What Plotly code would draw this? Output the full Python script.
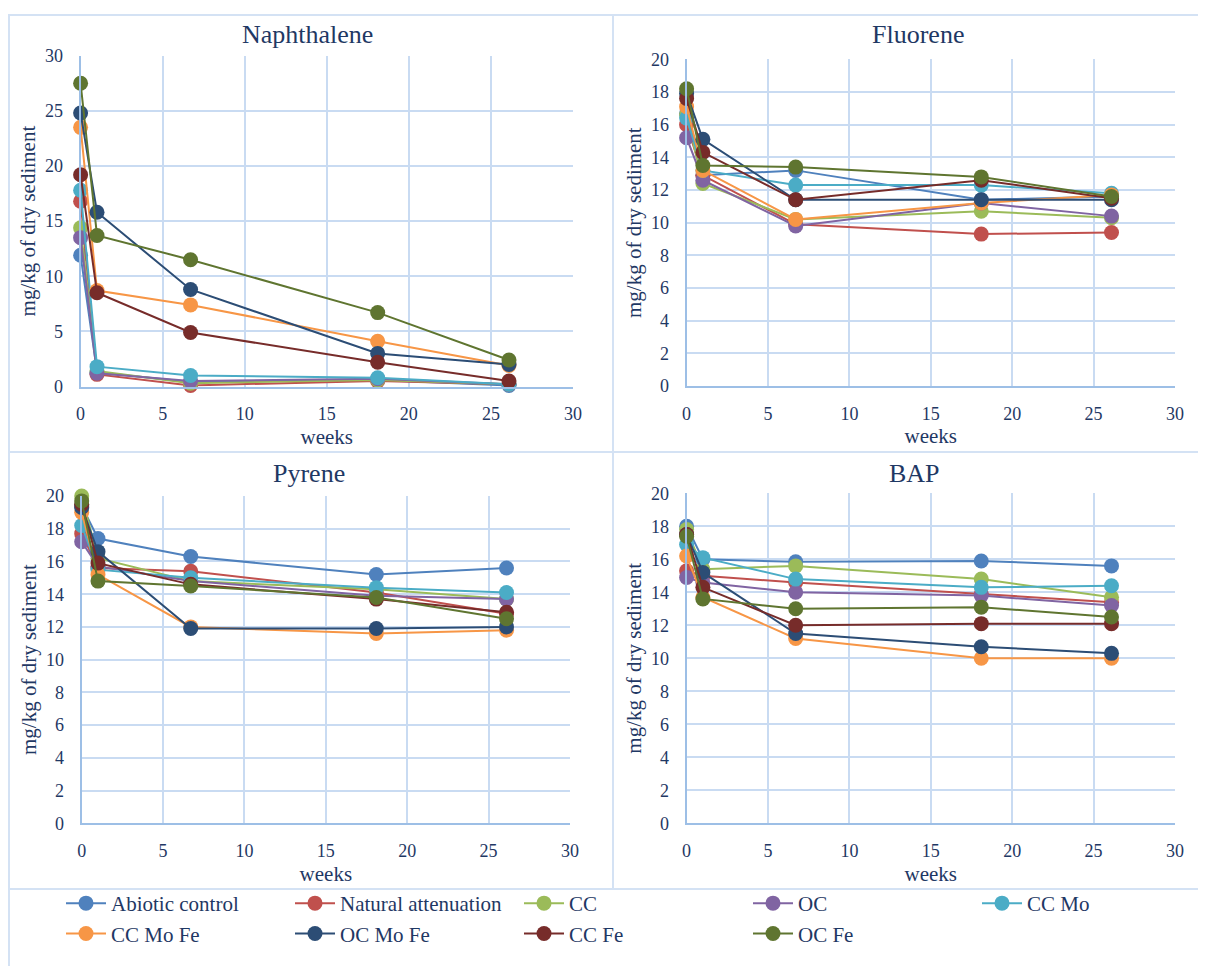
import plotly.graph_objects as go

weeks = [0, 1, 6.7, 18.1, 26.1]

series_names = ["Abiotic control", "Natural attenuation", "CC", "OC", "CC Mo",
                "CC Mo Fe", "OC Mo Fe", "CC Fe", "OC Fe"]
series_colors = ["#4F81BD", "#C0504D", "#9BBB59", "#8064A2", "#4BACC6",
                 "#F79646", "#2C4D75", "#772C2A", "#5F7530"]

naphthalene = [
    [11.9, 1.3, 0.4, 0.6, 0.1],
    [16.8, 1.1, 0.1, 0.5, 0.2],
    [14.4, 1.4, 0.3, 0.6, 0.2],
    [13.5, 1.2, 0.5, 0.7, 0.2],
    [17.8, 1.8, 1.0, 0.8, 0.2],
    [23.5, 8.7, 7.4, 4.1, 1.9],
    [24.8, 15.8, 8.8, 3.0, 2.0],
    [19.2, 8.5, 4.9, 2.2, 0.5],
    [27.5, 13.7, 11.5, 6.7, 2.4],
]
fluorene = [
    [16.7, 12.9, 13.2, 11.4, 11.6],
    [16.0, 12.9, 9.9, 9.3, 9.4],
    [16.6, 12.4, 10.2, 10.7, 10.3],
    [15.2, 12.6, 9.8, 11.2, 10.4],
    [16.4, 13.2, 12.3, 12.3, 11.8],
    [17.1, 13.2, 10.2, 11.2, 11.7],
    [17.9, 15.1, 11.4, 11.4, 11.4],
    [17.6, 14.3, 11.4, 12.6, 11.5],
    [18.2, 13.5, 13.4, 12.8, 11.6],
]
pyrene = [
    [19.4, 17.4, 16.3, 15.2, 15.6],
    [17.7, 15.6, 15.4, 14.1, 12.8],
    [20.0, 16.2, 14.8, 14.3, 13.7],
    [17.2, 15.7, 14.8, 13.9, 13.7],
    [18.2, 15.5, 15.0, 14.4, 14.1],
    [19.0, 15.2, 12.0, 11.6, 11.8],
    [19.3, 16.6, 11.9, 11.9, 12.0],
    [19.5, 15.9, 14.6, 13.7, 12.9],
    [19.7, 14.8, 14.5, 13.8, 12.5],
]
bap = [
    [18.0, 16.0, 15.85, 15.9, 15.6],
    [15.3, 15.0, 14.6, 13.9, 13.4],
    [17.8, 15.4, 15.6, 14.8, 13.7],
    [14.9, 14.6, 14.0, 13.8, 13.2],
    [16.9, 16.1, 14.8, 14.3, 14.4],
    [16.2, 13.7, 11.2, 10.0, 10.0],
    [17.5, 15.2, 11.5, 10.7, 10.3],
    [17.5, 14.3, 12.0, 12.1, 12.1],
    [17.4, 13.6, 13.0, 13.1, 12.5],
]

panel_titles = ["Naphthalene", "Fluorene", "Pyrene", "BAP"]
panel_data = [naphthalene, fluorene, pyrene, bap]
y_max = [30, 20, 20, 20]
y_step = [5, 2, 2, 2]

W, H = 1206, 966
OFF = 8  # page body margin offset
TXT = "#1F3864"
FONT = "Liberation Serif, Times New Roman, serif"
GRID = "#C9DBF2"
AXIS = "#9DBFE6"
BORDER = "#D4E2F4"


def px(x):
    return (x - OFF) / W


def py(y):
    return 1 - (y - OFF) / H


# plot areas in screen pixels: (x0, x1, ybottom, ytop)
areas = [(80.6, 573, 386.5, 55.7), (686.6, 1175, 386, 59.3),
         (81.7, 570, 823.3, 496), (686.6, 1175, 823.3, 493.3)]
title_pos = [(307, 35), (918, 35), (309, 473), (914, 473)]

fig = go.Figure()
layout = dict()
for i, (title, data) in enumerate(zip(panel_titles, panel_data)):
    n = "" if i == 0 else str(i + 1)
    for j, name in enumerate(series_names):
        fig.add_trace(go.Scatter(
            x=weeks, y=data[j], name=name, mode="lines+markers",
            line=dict(color=series_colors[j], width=2),
            marker=dict(color=series_colors[j], size=15),
            xaxis="x" + n, yaxis="y" + n, cliponaxis=False,
            legendgroup=name, showlegend=(i == 0)))
    x0, x1, yb, yt = areas[i]
    layout["xaxis" + n] = dict(
        domain=[px(x0), px(x1)], range=[0, 30], dtick=5, tick0=0,
        anchor="y" + n, showgrid=True, gridcolor=GRID, gridwidth=1.5,
        showline=True, linecolor=AXIS, linewidth=2, zeroline=False,
        mirror=False, ticks="", ticklabelstandoff=10, automargin=False,
        tickfont=dict(family=FONT, size=18, color=TXT),
        title=dict(text="weeks", font=dict(family=FONT, size=21, color=TXT), standoff=6))
    layout["yaxis" + n] = dict(
        domain=[py(yb), py(yt)], range=[0, y_max[i]], dtick=y_step[i], tick0=0,
        anchor="x" + n, showgrid=True, gridcolor=GRID, gridwidth=1.5,
        showline=True, linecolor=AXIS, linewidth=2, zeroline=False,
        ticks="", ticklabelstandoff=12, automargin=False,
        tickfont=dict(family=FONT, size=18, color=TXT),
        title=dict(text="mg/kg of dry sediment", font=dict(family=FONT, size=21, color=TXT), standoff=4))

annotations = []
for i, t in enumerate(panel_titles):
    cx, cy = title_pos[i]
    annotations.append(dict(text=t, x=px(cx), y=py(cy), xref="paper", yref="paper",
                            xanchor="center", yanchor="middle", showarrow=False,
                            font=dict(family=FONT, size=26, color=TXT)))

shapes = []


def hline(y, xa, xb):
    shapes.append(dict(type="line", xref="paper", yref="paper", x0=px(xa), x1=px(xb),
                       y0=py(y), y1=py(y), line=dict(color=BORDER, width=2)))


def vline(x, ya, yb):
    shapes.append(dict(type="line", xref="paper", yref="paper", x0=px(x), x1=px(x),
                       y0=py(ya), y1=py(yb), line=dict(color=BORDER, width=2)))


hline(15, 8, W + OFF)
hline(452, 8, W + OFF)
hline(889, 8, W + OFF)
vline(9, 15, H + OFF)
vline(613, 15, 889)

fig.update_layout(
    width=W, height=H, margin=dict(l=0, r=0, t=0, b=0, autoexpand=False),
    paper_bgcolor="white", plot_bgcolor="white",
    annotations=annotations, shapes=shapes,
    legend=dict(orientation="h", x=px(61), y=py(883), xanchor="left", yanchor="top",
                entrywidth=174, entrywidthmode="pixels", itemwidth=40,
                font=dict(family=FONT, size=21, color=TXT), tracegroupgap=0,
                bgcolor="rgba(0,0,0,0)"),
    **layout)

fig.write_html("out.html")
